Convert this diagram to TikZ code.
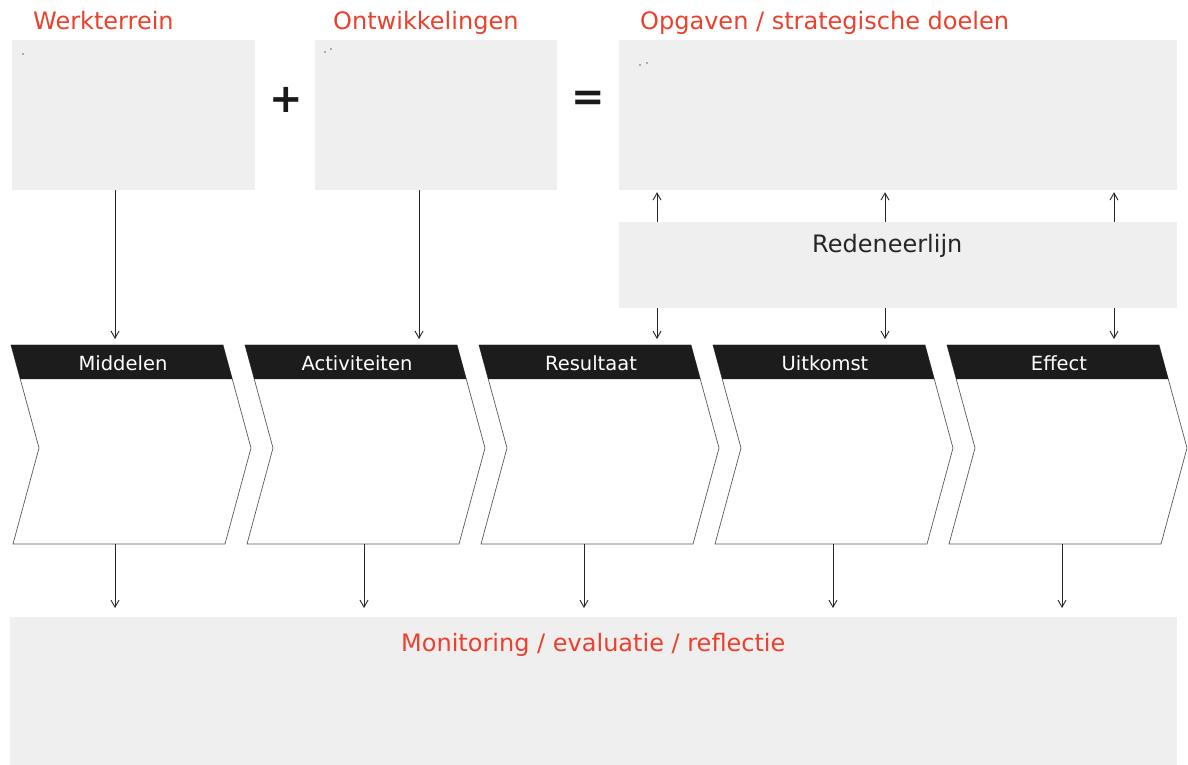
\documentclass[tikz,border=0pt]{standalone}
\usepackage{fontspec}
\setmainfont{DejaVu Sans}
\usetikzlibrary{arrows.meta}
\definecolor{redtxt}{RGB}{236,64,44}
\definecolor{boxgrey}{RGB}{239,239,239}
\definecolor{headblack}{RGB}{28,28,28}
\definecolor{outline}{RGB}{90,90,90}
\tikzset{
  greybox/.style={fill=boxgrey, draw=none, rectangle, inner sep=0pt},
  redtitle/.style={text=redtxt, font=\fontsize{24}{28}\selectfont, inner sep=0pt, anchor=base west},
  headlabel/.style={text=white, font=\fontsize{19.5}{23}\selectfont, inner sep=0pt, anchor=base},
  conn/.style={draw=black!85, line width=0.9pt, -{Straight Barb[length=7pt,width=8pt,line width=0.9pt]}},
  chevout/.style={draw=outline, line width=0.7pt, fill=white},
  dot/.style={fill=black!60, draw=none, circle, inner sep=0pt, minimum size=1.8pt}
}
\begin{document}
\begin{tikzpicture}[x=1pt,y=-1pt]
\useasboundingbox (0,0) rectangle (1188,765);
\fill[white] (0,0) rectangle (1188,765);

% top boxes
\node[greybox, minimum width=243pt, minimum height=150pt] (werk) at (133.5,115) {};
\node[greybox, minimum width=242pt, minimum height=150pt] (ontw) at (436,115) {};
\node[greybox, minimum width=558pt, minimum height=150pt] (opg) at (898,115) {};
\node[greybox, minimum width=558pt, minimum height=86pt] (red) at (898,265) {};
\node[greybox, minimum width=1167pt, minimum height=148pt] (mon) at (593.5,691) {};

% tiny dots
\node[dot] (d1) at (23,54) {};
\node[dot] (d2) at (325,52) {};
\node[dot] (d3) at (331,49) {};
\node[dot] (d4) at (640,65) {};
\node[dot] (d5) at (647,63) {};

% titles
\node[redtitle] (t1) at (33,30) {Werkterrein};
\node[redtitle] (t2) at (333,30) {Ontwikkelingen};
\node[redtitle] (t3) at (640,30) {Opgaven / strategische doelen};
\node[redtitle] (t4) at (401,651) {Monitoring / evaluatie / reflectie};
\node[inner sep=0pt, anchor=base west, text=black!85, font=\fontsize{24}{28}\selectfont] (t5) at (812,252) {Redeneerlijn};

\node[inner sep=0pt, font=\fontsize{40}{44}\bfseries\selectfont, text=black!90] (plus) at (286,100) {+};
\node[inner sep=0pt, font=\fontsize{40}{44}\bfseries\selectfont, text=black!90] (eq) at (588,101) {=};

% chevrons
\foreach \i/\L/\lab/\ti/\bo in {1/11/Middelen/115/115, 2/245/Activiteiten/419/364, 3/479/Resultaat/657/584, 4/713/Uitkomst/885/833, 5/947/Effect/1114/1062}{
  \path[chevout] (\L,345) -- ({\L+212},345) -- ({\L+240},448) -- ({\L+214},544)
        -- ({\L+2},544) -- ({\L+28},448) -- cycle;
  \fill[headblack] (\L,345) -- ({\L+212},345) -- ({\L+221.3},379) -- ({\L+9.3},379) -- cycle;
  \node[headlabel] (h\i) at ({\L+112},370) {\lab};
  \coordinate (top\i) at (\ti,339);
  \coordinate (bot\i) at (\bo,544);
  \coordinate (mon\i) at (\bo,608);
}

% connectors
\draw[conn] (werk.south -| top1) -- (top1);
\draw[conn] (ontw.south -| top2) -- (top2);
\foreach \i in {3,4,5}{
  \draw[conn] (red.south -| top\i) -- (top\i);
  \draw[conn] (red.north -| top\i) -- ([yshift=-2pt]opg.south -| top\i);
}
\foreach \i in {1,...,5}{
  \draw[conn] (bot\i) -- (mon\i);
}
\end{tikzpicture}
\end{document}
